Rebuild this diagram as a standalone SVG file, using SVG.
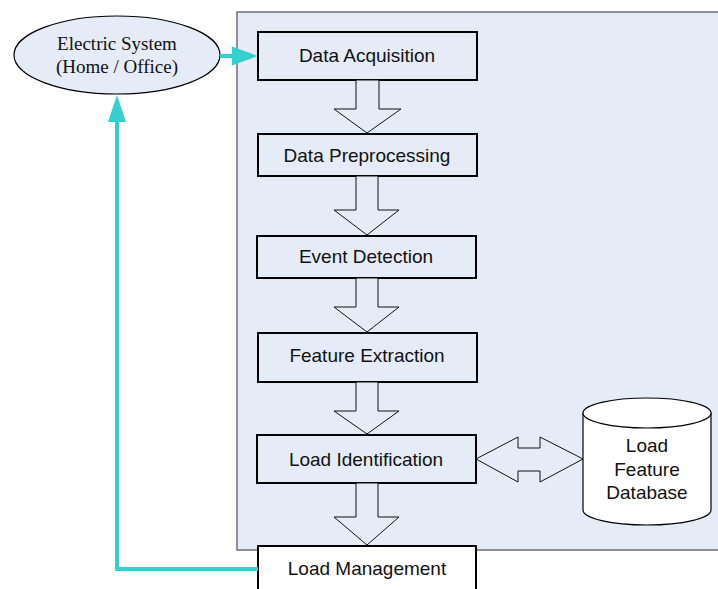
<svg xmlns="http://www.w3.org/2000/svg" width="718" height="589" viewBox="0 0 718 589">
  <style>
    .step { fill: #ffffff; stroke: #000000; stroke-width: 2; }
    .panel-step { fill: #e6ecf7; stroke: #000000; stroke-width: 2; }
    .label { font-family: "Liberation Sans", Arial, sans-serif; font-size: 19px; fill: #111111; text-anchor: middle; }
    .serif { font-family: "Liberation Serif", "Times New Roman", serif; font-size: 19px; fill: #111111; text-anchor: middle; }
    .block { fill: #e6ecf7; stroke: #111111; stroke-width: 1; stroke-linejoin: miter; }
    .link { fill: none; stroke: #36cfcf; stroke-width: 4; }
    .link-head { fill: #36cfcf; stroke: none; }
  </style>

  <rect width="718" height="589" fill="#ffffff"/>

  <!-- processing panel -->
  <rect id="panel" x="237" y="12" width="490" height="538" fill="#e6ecf7" stroke="#6f6f6f" stroke-width="1.5"/>

  <g id="electric-system">
    <ellipse cx="117" cy="55" rx="103" ry="39" fill="#e6ecf7" stroke="#000000" stroke-width="1.2"/>
    <text class="serif" x="117" y="50">Electric System</text>
    <text class="serif" x="117" y="73">(Home / Office)</text>
  </g>

  <g id="data-acquisition">
    <rect class="panel-step" x="258" y="32" width="219" height="48"/>
    <text class="label" x="367" y="62">Data Acquisition</text>
  </g>

  <g id="data-preprocessing">
    <rect class="panel-step" x="258" y="134" width="219" height="42"/>
    <text class="label" x="367" y="162">Data Preprocessing</text>
  </g>

  <g id="event-detection">
    <rect class="panel-step" x="257" y="236" width="219" height="42"/>
    <text class="label" x="366" y="263">Event Detection</text>
  </g>

  <g id="feature-extraction">
    <rect class="panel-step" x="258" y="333" width="219" height="49"/>
    <text class="label" x="367" y="362">Feature Extraction</text>
  </g>

  <g id="load-identification">
    <rect class="panel-step" x="257" y="435" width="219" height="48"/>
    <text class="label" x="366" y="466">Load Identification</text>
  </g>

  <g id="load-management">
    <rect class="step" x="258" y="546" width="218" height="50"/>
    <text class="label" x="367" y="575">Load Management</text>
  </g>

  <g id="load-feature-database">
    <path d="M583,413 L583,510 A64,15 0 0 0 711,510 L711,413" fill="#ffffff" stroke="#000000" stroke-width="1.2"/>
    <ellipse cx="647" cy="413" rx="64" ry="15" fill="#ffffff" stroke="#000000" stroke-width="1.2"/>
    <text class="label" x="647" y="452">Load</text>
    <text class="label" x="647" y="476">Feature</text>
    <text class="label" x="647" y="499">Database</text>
  </g>

  <g id="connectors">
    <!-- block arrows between steps -->
    <path class="block" d="M356,80 L379,80 L379,109 L401,109 L367,133 L334,109 L356,109 Z"/>
    <path class="block" d="M356,176 L378,176 L378,210 L399,210 L367,235 L334,210 L356,210 Z"/>
    <path class="block" d="M356,278 L378,278 L378,307 L399,307 L367,332 L334,307 L356,307 Z"/>
    <path class="block" d="M356,382 L378,382 L378,411 L399,411 L367,434 L334,411 L356,411 Z"/>
    <path class="block" d="M356,483 L378,483 L378,517 L399,517 L367,545 L334,517 L356,517 Z"/>
    <!-- two-way block arrow to the database -->
    <path class="block" d="M476,459 L518,437 L518,448 L540,448 L540,437 L583,459 L540,482 L540,471 L518,471 L518,482 Z"/>

    <!-- system to acquisition -->
    <line class="link" x1="220" y1="56" x2="234" y2="56"/>
    <polygon class="link-head" points="232,46.5 258,56 232,65.5"/>

    <!-- management feedback to system -->
    <polyline class="link" points="258,569 117,569 117,120"/>
    <polygon class="link-head" points="108,122 117,95 126,122"/>
  </g>
</svg>
